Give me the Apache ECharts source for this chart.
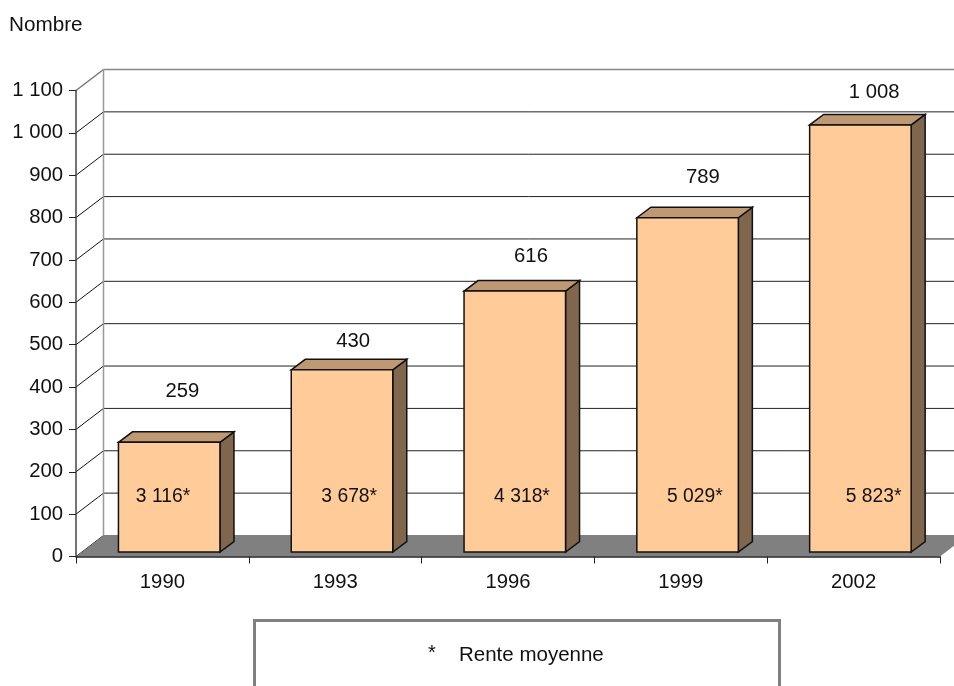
<!DOCTYPE html>
<html><head><meta charset="utf-8">
<style>html,body{margin:0;padding:0;background:#fff}#c{width:954px;height:686px}</style>
<script src="https://cdn.jsdelivr.net/npm/echarts@6/dist/echarts.min.js"></script>
</head><body><div id="c"></div>
<script>
const categories = ['1990','1993','1996','1999','2002'];
const values = [259,430,616,789,1008];
const rentes = ['3 116*','3 678*','4 318*','5 029*','5 823*'];
const yTicks = [0,100,200,300,400,500,600,700,800,900,1000,1100];

// styling / layout constants
const FONT = '"Liberation Sans", Arial, sans-serif';
const FS = 20.3;
const DX = 27.5, DY = -21;       // depth of the wall
const BDX = 14, BDY = -10.5;     // depth of each bar
const BASE_UP = 4.5, BAR_W = 101.5, BAR_SHIFT = 6.8;
const valueNudgeX = [20,18,23,22,20.5];
const valueLift = [50.5,28.5,34.5,40.5,32.5];
const rentNudgeX = [0.6,14,14,14,20];
const RENT_LEVEL = 142;

const chart = echarts.init(document.getElementById('c'), null, {renderer:'canvas'});

function wallItem(params, api){
  const t = api.value(0);
  const l = api.coord([0,t]);
  const bandW = api.size([1,0])[0];
  const x0 = l[0]-bandW/2, y = l[1];
  const isTop = t === yTicks[yTicks.length-1];
  const stroke = isTop ? '#777' : '#111';
  const kids = [
    {type:'line',shape:{x1:x0,y1:y,x2:x0+DX,y2:y+DY},style:{stroke,lineWidth:isTop?1.5:1}},
    {type:'line',shape:{x1:x0+DX,y1:y+DY,x2:954,y2:y+DY},style:{stroke:t===0?'#808080':(isTop?'#888':'#222'),lineWidth:isTop?1.5:1}}
  ];
  if(isTop){
    const y0 = api.coord([0,0])[1];
    kids.push({type:'line',shape:{x1:x0+DX,y1:y+DY,x2:x0+DX,y2:y0+DY},style:{stroke:'#999',lineWidth:1.5}});
  }
  return {type:'group',children:kids};
}

function floorItem(params, api){
  const l = api.coord([0,0]), r = api.coord([categories.length-1,0]);
  const bandW = api.size([1,0])[0];
  const x0 = l[0]-bandW/2, x1 = r[0]+bandW/2, y = l[1];
  return {type:'polygon',shape:{points:[[x0,y],[x1,y],[x1+DX,y+DY],[x0+DX,y+DY]]},
    style:{fill:'#808080',stroke:'none'}};
}

function barItem(params, api){
  const i = api.value(0), v = api.value(1);
  const c = api.coord([i,v]), b = api.coord([i,0]);
  const cx = c[0]+BAR_SHIFT;
  const xl = cx-BAR_W/2, xr = cx+BAR_W/2, yt = c[1]-BASE_UP, yb = b[1]-BASE_UP;
  const line = {stroke:'#111',lineWidth:1.5,lineJoin:'miter'};
  return {type:'group',children:[
    {type:'polygon',shape:{points:[[xr,yt],[xr+BDX,yt+BDY],[xr+BDX,yb+BDY],[xr,yb]]},style:Object.assign({fill:'#80664D'},line)},
    {type:'polygon',shape:{points:[[xl,yt],[xl+BDX,yt+BDY],[xr+BDX,yt+BDY],[xr,yt]]},style:Object.assign({fill:'#BF9973'},line)},
    {type:'rect',shape:{x:xl,y:yt,width:BAR_W,height:yb-yt},style:Object.assign({fill:'#FFCC99'},line)},
    {type:'text',x:c[0]+valueNudgeX[i],y:yt-valueLift[i],style:{text:String(v).replace(/\B(?=(\d{3})+$)/g,' '),font:FS+'px '+FONT,fill:'#111',align:'center',verticalAlign:'middle'}},
    {type:'text',x:c[0]+rentNudgeX[i],y:api.coord([i,RENT_LEVEL])[1],style:{text:rentes[i],font:'19.3px '+FONT,fill:'#111',align:'center',verticalAlign:'middle'}}
  ]};
}

chart.setOption({
  animation:false,
  backgroundColor:'#fff',
  textStyle:{fontFamily:FONT},
  grid:{left:76,right:14,top:90.5,bottom:129.5,containLabel:false},
  xAxis:{type:'category',data:categories,z:10,
    axisLine:{lineStyle:{color:'#222',width:1.5}},
    axisTick:{show:true,length:7,lineStyle:{color:'#222',width:1},alignWithLabel:false},
    axisLabel:{color:'#111',fontSize:FS,fontFamily:FONT,margin:16,interval:0},
    splitLine:{show:false}},
  yAxis:{type:'value',min:0,max:1100,interval:100,z:10,
    axisLine:{show:true,lineStyle:{color:'#444',width:1.5}},
    axisTick:{show:true,length:7,lineStyle:{color:'#222',width:1}},
    axisLabel:{color:'#111',fontSize:FS,fontFamily:FONT,margin:13,padding:[2,0,0,0],
      formatter:v=>String(v).replace(/\B(?=(\d{3})+$)/g,' ')},
    splitLine:{show:false}},
  graphic:[
    {type:'text',left:9,top:15,style:{text:'Nombre',font:'20.7px '+FONT,fill:'#111'}},
    {type:'rect',shape:{x:254.5,y:620.5,width:525,height:90},style:{fill:'#fff',stroke:'#808080',lineWidth:3}},
    {type:'text',x:432,y:653,style:{text:'*',font:'20px '+FONT,fill:'#111',align:'center',verticalAlign:'middle'}},
    {type:'text',x:459,y:655,style:{text:'Rente moyenne',font:'20.5px '+FONT,fill:'#111',align:'left',verticalAlign:'middle'}}
  ],
  series:[
    {type:'custom',name:'mur',coordinateSystem:'cartesian2d',z:1,silent:true,clip:false,
      data:yTicks.map(t=>[t]),encode:{x:-1,y:0},renderItem:wallItem},
    {type:'custom',name:'sol',coordinateSystem:'cartesian2d',z:2,silent:true,clip:false,
      data:[[0]],encode:{x:-1,y:0},renderItem:floorItem},
    {type:'custom',name:'Nombre',coordinateSystem:'cartesian2d',z:3,silent:true,clip:false,
      data:values.map((v,i)=>[i,v]),encode:{x:0,y:1},renderItem:barItem}
  ]
});
</script></body></html>
